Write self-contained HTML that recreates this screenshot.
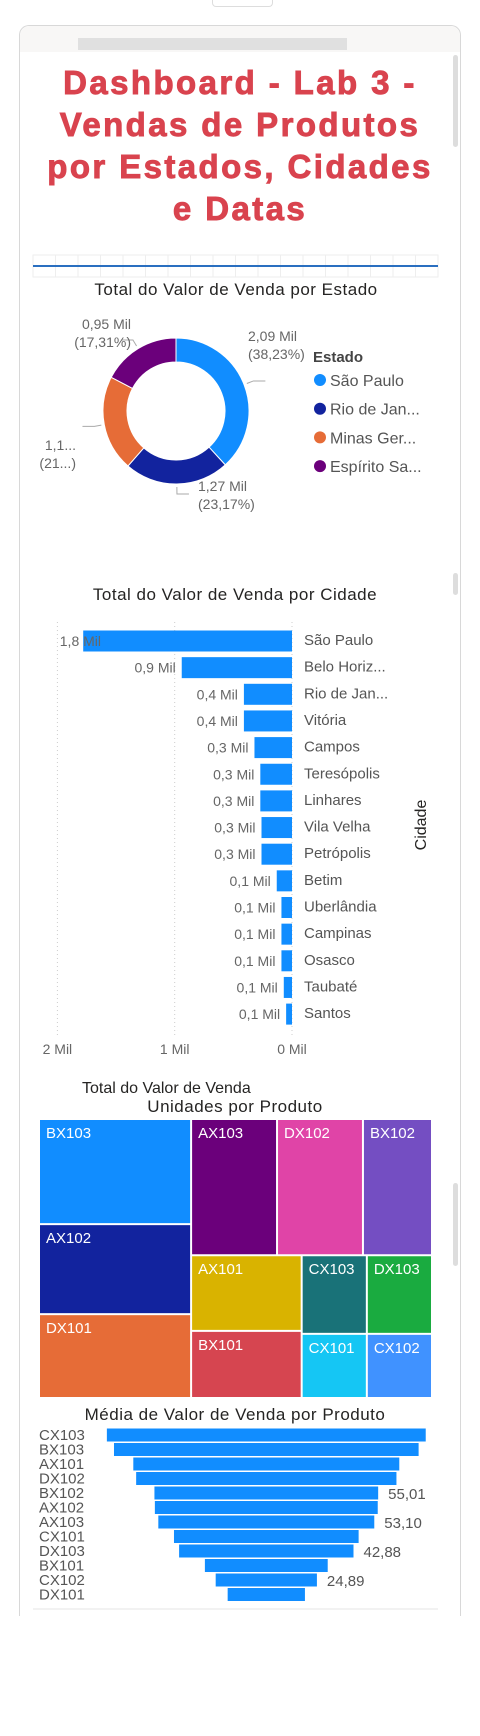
<!DOCTYPE html>
<html><head><meta charset="utf-8">
<style>
html,body{margin:0;padding:0;background:#fff;}
body{width:480px;height:1736px;position:relative;overflow:hidden;font-family:"Liberation Sans",sans-serif;}
.abs{position:absolute;}
#title{left:20px;top:62px;width:440px;text-align:center;color:#d9434e;font-weight:bold;font-size:33px;line-height:42px;letter-spacing:2.4px;-webkit-text-stroke:0.9px #d9434e;}
</style></head>
<body>
<div class="abs" style="left:19px;top:25px;width:440px;height:1590px;border:1px solid #d8d8d8;border-bottom:none;border-radius:10px 10px 0 0;"></div>
<div class="abs" style="left:20px;top:26px;width:440px;height:26px;background:#f8f7f6;border-radius:10px 10px 0 0;"></div>
<div class="abs" style="left:78px;top:38px;width:269px;height:12px;background:#e0e0e0;"></div>
<div class="abs" style="left:212px;top:0;width:59px;height:6px;border:1px solid #ddd;border-top:none;border-radius:0 0 4px 4px;"></div>
<div class="abs" style="left:453px;top:55px;width:5px;height:92px;background:#ddd;border-radius:3px;"></div>
<div class="abs" style="left:453px;top:573px;width:5px;height:22px;background:#ddd;border-radius:3px;"></div>
<div class="abs" style="left:453px;top:1183px;width:5px;height:83px;background:#ddd;border-radius:3px;"></div>
<div id="title" class="abs">Dashboard - Lab 3 -<br>Vendas de Produtos<br>por Estados, Cidades<br>e Datas</div>
<svg class="abs" style="left:0;top:0" width="480" height="1736" id="svg">
<g id="strip"></g>
<g id="donut"></g>
<g id="bars"></g>
<g id="tree"></g>
<g id="funnel"></g>
</svg>
<script>
// ---- data ----
const stateNames = ["São Paulo","Rio de Jan...","Minas Ger...","Espírito Sa..."];
const stateValues = [2.09,1.27,1.16,0.95];
const stateLabels = ["2,09 Mil","1,27 Mil","1,1...","0,95 Mil"];
const statePct = ["(38,23%)","(23,17%)","(21...)","(17,31%)"];
const cities = ["São Paulo","Belo Horiz...","Rio de Jan...","Vitória","Campos","Teresópolis","Linhares","Vila Velha","Petrópolis","Betim","Uberlândia","Campinas","Osasco","Taubaté","Santos"];
const cityValues = [1.78,0.94,0.41,0.41,0.32,0.27,0.27,0.26,0.26,0.13,0.09,0.09,0.09,0.07,0.05];
const cityLabels = ["1,8 Mil","0,9 Mil","0,4 Mil","0,4 Mil","0,3 Mil","0,3 Mil","0,3 Mil","0,3 Mil","0,3 Mil","0,1 Mil","0,1 Mil","0,1 Mil","0,1 Mil","0,1 Mil","0,1 Mil"];
const cityTicks = [2,1,0];
const cityTickLabels = ["2 Mil","1 Mil","0 Mil"];
const treeProducts = ["BX103","AX102","DX101","AX103","DX102","BX102","AX101","BX101","CX103","DX103","CX101","CX102"];
const treeUnits = [153,131,122,112,112,90,80,71,49,49,40,40];
const funnelProducts = ["CX103","BX103","AX101","DX102","BX102","AX102","AX103","CX101","DX103","BX101","CX102","DX101"];
const funnelValues = [78.4,74.9,65.4,64.0,55.01,54.8,53.10,45.4,42.88,30.2,24.89,19.0];
const funnelLabels = ["","","","","55,01","","53,10","","42,88","","24,89",""];

const NS="http://www.w3.org/2000/svg";
function mk(parent,tag,attrs,text){const e=document.createElementNS(NS,tag);for(const k in attrs)e.setAttribute(k,attrs[k]);if(text!==undefined)e.textContent=text;parent.appendChild(e);return e;}
const FONT='"Liberation Sans",sans-serif';

// ---- slicer strip ----
const strip=document.getElementById('strip');
for(let i=0;i<18;i++){const r=mk(strip,'rect',{x:33+i*22.5,y:255,width:22.5,height:22,fill:'none',stroke:'#eee'});

}
const sl=mk(strip,'rect',{x:33,y:265,width:405,height:2,fill:'#2a6fc0'});


const bstrip=mk(strip,'line',{x1:33,y1:1609,x2:438,y2:1609,stroke:'#e6e6e6'});



// ---- donut ----
const dg=document.getElementById('donut');
const t1=mk(dg,'text',{x:236,y:295,'text-anchor':'middle','font-size':17,fill:'#252423','font-family':FONT,'letter-spacing':'0.5'},'Total do Valor de Venda por Estado');


const stateColors=['#118dff','#12239e','#e66c37','#6b007b'];
const cx=176,cy=411,R=73,r0=49;
const tot=stateValues.reduce((a,b)=>a+b,0);
let a0=-Math.PI/2;
const pos=[[248,341,'start'],[198,491,'start'],[76,450,'end'],[131,329,'end']];
stateValues.forEach((v,i)=>{
  const a1=a0+v/tot*2*Math.PI;const lg=(a1-a0)>Math.PI?1:0;
  const p=(rr,a)=>[cx+rr*Math.cos(a),cy+rr*Math.sin(a)];
  const [x1,y1]=p(R,a0),[x2,y2]=p(R,a1),[x3,y3]=p(r0,a1),[x4,y4]=p(r0,a0);
  const s=mk(dg,'path',{d:`M${x1},${y1}A${R},${R} 0 ${lg} 1 ${x2},${y2}L${x3},${y3}A${r0},${r0} 0 ${lg} 0 ${x4},${y4}Z`,fill:stateColors[i],stroke:'#fff','stroke-width':1});
  
  
  const am=(a0+a1)/2;const [lx,ly]=p(R+3,am);const [mx,my]=p(R+10,am);
  const ld=mk(dg,'polyline',{points:`${lx},${ly} ${mx},${my} ${mx+(Math.cos(am)>0?12:-12)},${my}`,fill:'none',stroke:'#aaa'});
  
  
  const [tx,ty,an]=pos[i];
  const l1=mk(dg,'text',{x:tx,y:ty,'text-anchor':an,'font-size':14,fill:'#666','font-family':FONT},stateLabels[i]);
  
  
  const l2=mk(dg,'text',{x:tx,y:ty+18,'text-anchor':an,'font-size':14,fill:'#666','font-family':FONT},statePct[i]);
  
  
  a0=a1;
});
const lt=mk(dg,'text',{x:313,y:362,'font-size':15,'font-weight':'bold',fill:'#444','font-family':FONT},'Estado');


stateNames.forEach((n,i)=>{
  const y=380+i*28.7;
  const c=mk(dg,'circle',{cx:320,cy:y,r:6,fill:stateColors[i]});
  
  
  const t=mk(dg,'text',{x:330,y:y+6,'font-size':16,fill:'#555','font-family':FONT},n);
  
  
});

// ---- city bars ----
const bg=document.getElementById('bars');
const t2=mk(bg,'text',{x:235,y:600,'text-anchor':'middle','font-size':17,fill:'#252423','font-family':FONT,'letter-spacing':'0.5'},'Total do Valor de Venda por Cidade');


const x0=292,perUnit=117.3;
const xs=v=>x0-v*perUnit;
const ys=i=>641+i*26.65;
cityTicks.forEach((t,i)=>{
  const g=mk(bg,'line',{x1:xs(t),y1:622,x2:xs(t),y2:1036,stroke:'#ccc','stroke-dasharray':'1,3'});
  
  
  const tl=mk(bg,'text',{x:xs(t),y:1054,'text-anchor':'middle','font-size':14,fill:'#666','font-family':FONT},cityTickLabels[i]);
  
  
});
cities.forEach((c,i)=>{
  const y=ys(i);
  const b=mk(bg,'rect',{x:xs(cityValues[i]),y:y-10.5,width:cityValues[i]*perUnit,height:21,fill:'#118dff'});
  
  
  const vl=mk(bg,'text',{x:Math.max(xs(cityValues[i])-6,101),y:y+5,'text-anchor':'end','font-size':14,fill:'#666','font-family':FONT},cityLabels[i]);
  
  
  const cl=mk(bg,'text',{x:304,y:y+4,'font-size':15,fill:'#555','font-family':FONT},c);
  
  
});
const yt=mk(bg,'text',{x:426,y:825,'text-anchor':'middle','font-size':16,fill:'#252423','font-family':FONT,transform:'rotate(-90 426 825)'},'Cidade');


const xt=mk(bg,'text',{x:82,y:1093,'font-size':16,fill:'#252423','font-family':FONT},'Total do Valor de Venda');



// ---- treemap ----
const tg=document.getElementById('tree');
const t3=mk(tg,'text',{x:235,y:1112,'text-anchor':'middle','font-size':17,fill:'#252423','font-family':FONT,'letter-spacing':'0.5'},'Unidades por Produto');


const treeColors=['#118dff','#12239e','#e66c37','#6b007b','#e044a7','#744ec2','#d9b300','#d64550','#197278','#1aab40','#15c6f4','#4092ff'];
const sum=idx=>idx.reduce((a,i)=>a+treeUnits[i],0);
const structure=['h',[['v',[0,1,2]],['v',[['h',[3,4,5]],['h',[['v',[6,7]],['v',[['h',[8,9]],['h',[10,11]]]]]]]]]];
function leaves(n){return typeof n==='number'?[n]:n[1].flatMap(leaves);}
function layout(n,x,y,w,h){
  if(typeof n==='number'){
    const r=mk(tg,'rect',{x:x+1,y:y+1,width:w-2,height:h-2,fill:treeColors[n]});
    
    
    const t=mk(tg,'text',{x:x+7,y:y+19,'font-size':15,fill:'#fff','font-family':FONT},treeProducts[n]);
    
    
    return;}
  const tot=sum(leaves(n));let off=0;
  n[1].forEach(ch=>{const f=sum(leaves(ch))/tot;
    if(n[0]==='h'){layout(ch,x+off,y,w*f,h);off+=w*f;}else{layout(ch,x,y+off,w,h*f);off+=h*f;}});
}
layout(structure,39,1119,393,279);

// ---- funnel ----
const fg=document.getElementById('funnel');
const t4=mk(fg,'text',{x:235,y:1420,'text-anchor':'middle','font-size':17,fill:'#252423','font-family':FONT,'letter-spacing':'0.5'},'Média de Valor de Venda por Produto');


const fc=266.3,fScale=4.067;
funnelProducts.forEach((p,i)=>{
  const y=1435+i*14.5;const w=funnelValues[i]*fScale;
  const b=mk(fg,'rect',{x:fc-w/2,y:y-6.5,width:w,height:13,fill:'#118dff'});
  
  
  const l=mk(fg,'text',{x:39,y:y+5,'font-size':15,fill:'#555','font-family':FONT},p);
  
  
  if(funnelLabels[i]){const v=mk(fg,'text',{x:fc+w/2+10,y:y+6,'font-size':15,fill:'#555','font-family':FONT},funnelLabels[i]);
  
  }
});
</script>
</body></html>
